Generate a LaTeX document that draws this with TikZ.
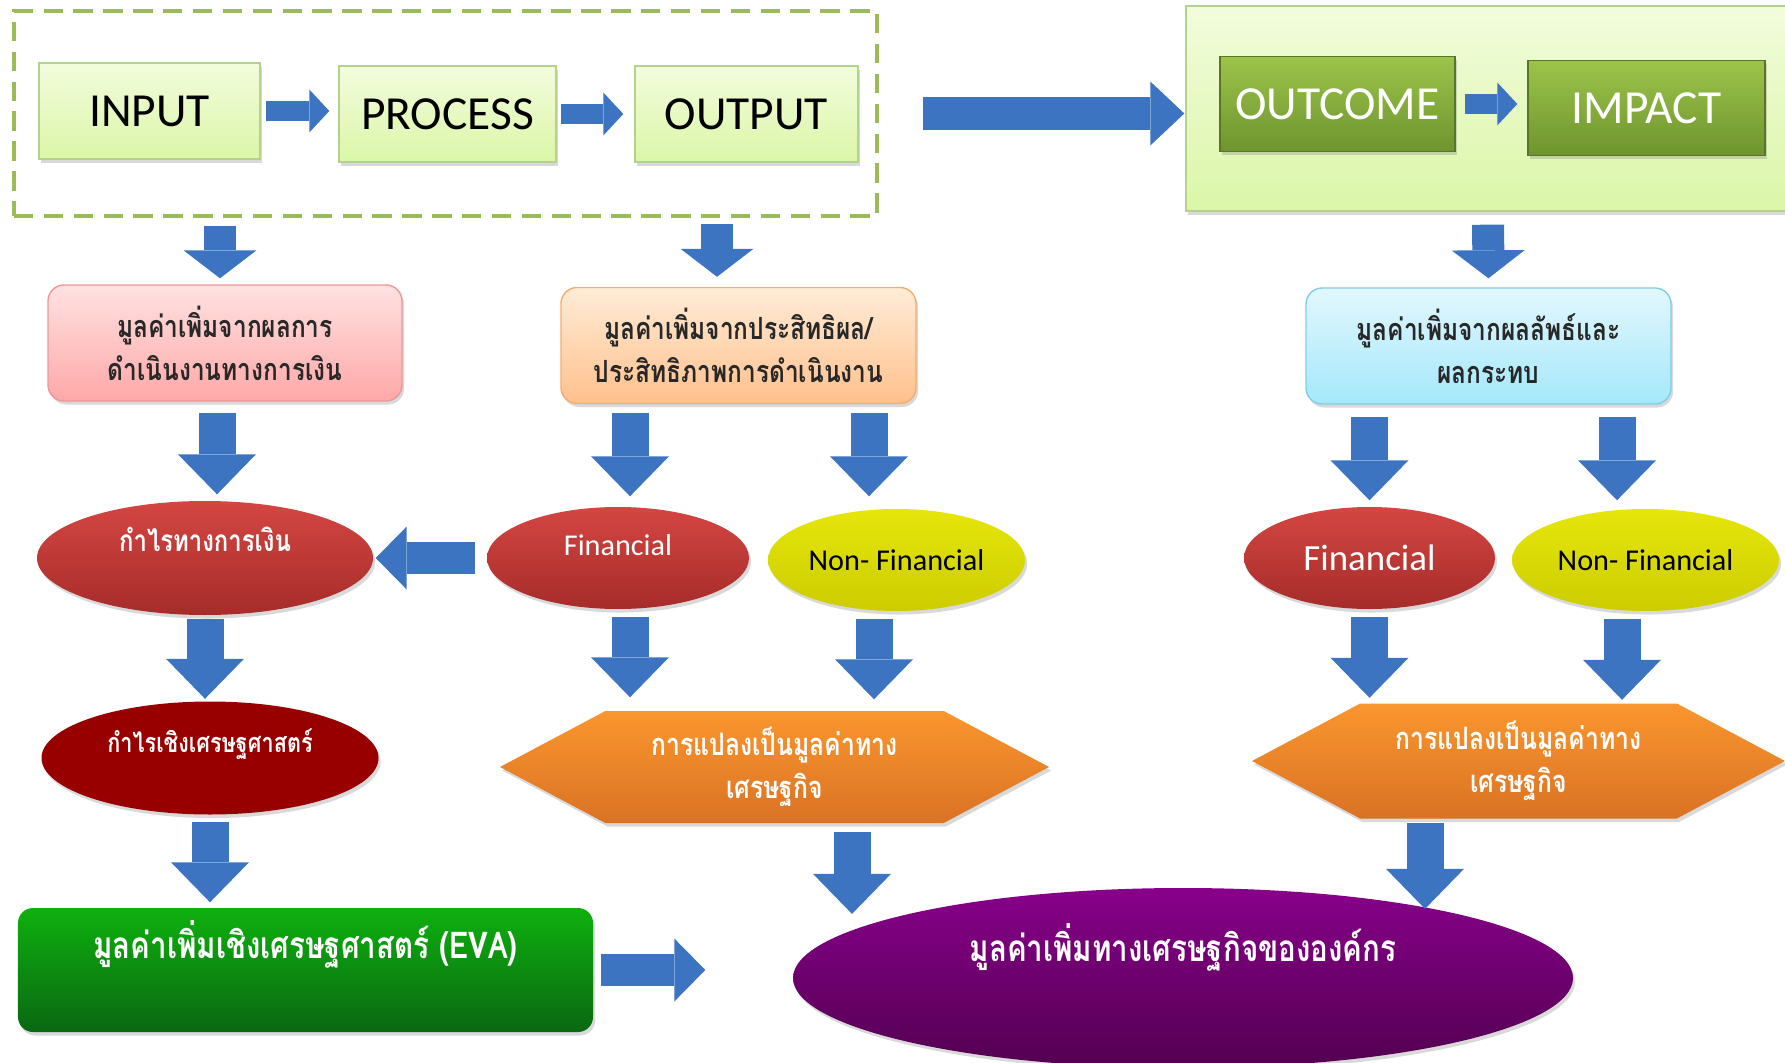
\documentclass[tikz,border=0pt]{standalone}
\usepackage{fontspec}
\setmainfont{Carlito}
\newfontfamily\thaifont[Script=Thai, FakeStretch=0.8]{Loma}
\usetikzlibrary{positioning, arrows.meta, shapes.geometric, shapes.symbols, shadows}

\definecolor{flowblue}{RGB}{60,116,194}
\definecolor{stagetop}{RGB}{242,252,220}
\definecolor{stagebot}{RGB}{219,246,168}
\definecolor{stageline}{RGB}{178,211,140}
\definecolor{framegreen}{RGB}{155,187,89}
\definecolor{deeptop}{RGB}{156,196,74}
\definecolor{deepbot}{RGB}{110,148,46}
\definecolor{pinktop}{RGB}{255,226,226}
\definecolor{pinkbot}{RGB}{255,168,168}
\definecolor{pinkline}{RGB}{236,152,152}
\definecolor{peachtop}{RGB}{255,236,216}
\definecolor{peachbot}{RGB}{255,192,140}
\definecolor{peachline}{RGB}{246,172,110}
\definecolor{skytop}{RGB}{226,247,253}
\definecolor{skybot}{RGB}{164,232,250}
\definecolor{skyline}{RGB}{128,206,232}
\definecolor{redtop}{RGB}{212,70,66}
\definecolor{redbot}{RGB}{166,44,42}
\definecolor{yeltop}{RGB}{230,230,12}
\definecolor{yelbot}{RGB}{204,204,0}
\definecolor{maroon}{RGB}{152,0,0}
\definecolor{hextop}{RGB}{250,150,46}
\definecolor{hexbot}{RGB}{218,114,36}
\definecolor{evatop}{RGB}{14,176,14}
\definecolor{evabot}{RGB}{10,104,18}
\definecolor{plumtop}{RGB}{136,0,138}
\definecolor{plumbot}{RGB}{82,0,80}
\definecolor{darktext}{RGB}{40,40,40}

\begin{document}
\begin{tikzpicture}[font=\fontsize{13.5}{16}\selectfont]

\tikzset{
  shade/.style={drop shadow={opacity=0.3, shadow xshift=0.6pt, shadow yshift=-1pt}},
  stage/.style={draw=stageline, top color=stagetop, bottom color=stagebot, minimum height=0.96cm, inner sep=0pt, shade},
  deep/.style={draw=deepbot!80!black, top color=deeptop, bottom color=deepbot, text=white, minimum height=0.95cm, inner sep=0pt, shade},
  valbox/.style={rounded corners=0.16cm, minimum height=1.16cm, align=center, text=darktext, inner sep=0pt, shade,
    font=\thaifont\bfseries\fontsize{8.7}{12.3}\selectfont},
  oval/.style={ellipse, inner sep=0pt, minimum height=1.02cm, shade, font=\fontsize{8.6}{11}\selectfont},
  thaioval/.style={ellipse, inner sep=0pt, shade, text=white, font=\thaifont\bfseries\fontsize{8.5}{12}\selectfont},
  hexa/.style={signal, signal to=west and east, signal pointer angle=56, inner sep=0pt, shade, text=white,
    top color=hextop, bottom color=hexbot, align=center, font=\thaifont\bfseries\fontsize{8.8}{12.3}\selectfont},
  hflow/.style={draw=flowblue, line width=0.2cm, -{Triangle[length=0.2cm, width=0.43cm, line width=0pt]}},
  bigflow/.style={draw=flowblue, line width=0.33cm, -{Triangle[length=0.34cm, width=0.64cm, line width=0pt]}},
  sideflow/.style={draw=flowblue, line width=0.32cm, -{Triangle[length=0.31cm, width=0.63cm, line width=0pt]}},
  thinflow/.style={draw=flowblue, line width=0.32cm, -{Triangle[length=0.28cm, width=0.73cm, line width=0pt]}},
  downflow/.style={draw=flowblue, line width=0.37cm, -{Triangle[length=0.40cm, width=0.78cm, line width=0pt]}},
}

\useasboundingbox (0,0) rectangle (17.85,-10.63);

% input - process - output chain
\node[stage, minimum width=2.21cm] (input) at (1.495,-1.11) {INPUT};
\node[stage, minimum width=2.17cm] (process) at (4.475,-1.14) {PROCESS};
\node[stage, minimum width=2.23cm] (output) at (7.465,-1.14) {OUTPUT};
\node[draw=framegreen, line width=1.1pt, dash pattern=on 5.5pt off 3pt, minimum width=8.63cm, minimum height=2.05cm] (chain) at (4.455,-1.135) {};

% outcome - impact
\node[draw=stageline, top color=stagetop, bottom color=stagebot, minimum width=6.04cm, minimum height=2.05cm, shade] (effect) at (14.88,-1.085) {};
\node[deep, minimum width=2.35cm] (outcome) at (13.375,-1.04) {OUTCOME};
\node[deep, minimum width=2.37cm] (impact) at (16.465,-1.08) {IMPACT};

% value added boxes
\node[valbox, draw=pinkline, top color=pinktop, bottom color=pinkbot, minimum width=3.54cm] (finbox) at (2.25,-3.43)
  {มูลค่าเพิ่มจากผลการ\\ดำเนินงานทางการเงิน};
\node[valbox, draw=peachline, top color=peachtop, bottom color=peachbot, minimum width=3.55cm] (effbox) at (7.385,-3.455)
  {มูลค่าเพิ่มจากประสิทธิผล/\\ประสิทธิภาพการดำเนินงาน};
\node[valbox, draw=skyline, top color=skytop, bottom color=skybot, minimum width=3.65cm] (resbox) at (14.885,-3.46)
  {มูลค่าเพิ่มจากผลลัพธ์และ\\ผลกระทบ};

% financial / non-financial
\node[thaioval, top color=redtop, bottom color=redbot, minimum width=3.36cm, minimum height=1.14cm,
  text height=0.25cm, text depth=0.375cm] (profit) at (2.05,-5.58) {กำไรทางการเงิน};
\node[oval, top color=redtop, bottom color=redbot, text=white, minimum width=2.62cm,
  text height=0.25cm, text depth=0.31cm] (fin1) at (6.18,-5.58) {Financial};
\node[oval, top color=yeltop, bottom color=yelbot, minimum width=2.57cm] (nonfin1) at (8.965,-5.60) {Non- Financial};
\node[oval, top color=redtop, bottom color=redbot, text=white, minimum width=2.51cm, font=\fontsize{10.5}{12}\selectfont] (fin2) at (13.695,-5.58) {Financial};
\node[oval, top color=yeltop, bottom color=yelbot, minimum width=2.67cm] (nonfin2) at (16.455,-5.60) {Non- Financial};

% conversion to economic value
\node[thaioval, fill=maroon, minimum width=3.37cm, minimum height=1.13cm, text height=0.25cm, text depth=0.37cm,
  font=\thaifont\bfseries\fontsize{7.7}{11}\selectfont] (econ) at (2.10,-7.58) {กำไรเชิงเศรษฐศาสตร์};
\node[hexa, minimum width=5.49cm, minimum height=1.12cm] (hex1) at (7.745,-7.67) {การแปลงเป็นมูลค่าทาง\\เศรษฐกิจ};
\node[hexa, minimum width=5.33cm, minimum height=1.15cm] (hex2) at (15.185,-7.61) {การแปลงเป็นมูลค่าทาง\\เศรษฐกิจ};

% final values
\node[rounded corners=0.15cm, top color=evatop, bottom color=evabot, text=white, minimum width=5.75cm, minimum height=1.24cm,
  inner sep=0pt, text height=0.35cm, text depth=0.59cm, shade, font=\thaifont\bfseries\fontsize{10.5}{14}\selectfont] (eva) at (3.055,-9.70)
  {มูลค่าเพิ่มเชิงเศรษฐศาสตร์ (EVA)};
\node[thaioval, top color=plumtop, bottom color=plumbot, minimum width=7.8cm, minimum height=1.8cm,
  text height=0.35cm, text depth=0.69cm, font=\thaifont\bfseries\fontsize{10.5}{14}\selectfont] (value) at (11.83,-9.78)
  {มูลค่าเพิ่มทางเศรษฐกิจขององค์กร};

% arrows, top row
\draw[hflow, shorten <=0.05cm, shorten >=0.09cm] (input.east) -- (input.east -| process.west);
\draw[hflow, shorten <=0.04cm, shorten >=0.11cm] (process.east) -- (process.east -| output.west);
\draw[bigflow, shorten <=0.44cm, shorten >=0.01cm] (chain.east) -- (chain.east -| effect.west);
\draw[hflow, shorten <=0.09cm, shorten >=0.1cm] (outcome.east) -- (outcome.east -| impact.west);

% arrows into the value boxes
\draw[thinflow, shorten <=0.08cm, shorten >=0.06cm] ([xshift=-0.05cm]finbox.north |- chain.south) -- ([xshift=-0.05cm]finbox.north);
\draw[thinflow, shorten <=0.06cm, shorten >=0.10cm] ([xshift=-0.215cm]effbox.north |- chain.south) -- ([xshift=-0.215cm]effbox.north);
\draw[thinflow, shorten <=0.13cm, shorten >=0.09cm] (effect.south) -- (resbox.north);

% arrows into the ovals
\draw[downflow, shorten <=0.11cm, shorten >=0.06cm] ([xshift=-0.08cm]finbox.south) -- ([xshift=-0.08cm]finbox.south |- profit.north);
\draw[downflow, shorten <=0.09cm, shorten >=0.10cm] ([xshift=0.12cm]fin1.north |- effbox.south) -- ([xshift=0.12cm]fin1.north);
\draw[downflow, shorten <=0.09cm, shorten >=0.12cm] ([xshift=-0.275cm]nonfin1.north |- effbox.south) -- ([xshift=-0.275cm]nonfin1.north);
\draw[downflow, shorten <=0.12cm, shorten >=0.06cm] (fin2.north |- resbox.south) -- (fin2.north);
\draw[downflow, shorten <=0.12cm, shorten >=0.08cm] ([xshift=-0.285cm]nonfin2.north |- resbox.south) -- ([xshift=-0.285cm]nonfin2.north);
\draw[sideflow, shorten <=0.11cm, shorten >=0.02cm] (fin1.west) -- (profit.east);

% arrows into the conversion step
\draw[downflow, shorten <=0.03cm, shorten >=0.02cm] (profit.south) -- (profit.south |- econ.north);
\draw[downflow, shorten <=0.07cm, shorten >=0.13cm] ([xshift=0.12cm]fin1.south) -- ([xshift=0.12cm]fin1.south |- hex1.north);
\draw[downflow, shorten <=0.07cm, shorten >=0.11cm] ([xshift=-0.225cm]nonfin1.south) -- ([xshift=-0.225cm]nonfin1.south |- hex1.north);
\draw[downflow, shorten <=0.07cm, shorten >=0.05cm] (fin2.south) -- (fin2.south |- hex2.north);
\draw[downflow, shorten <=0.07cm, shorten >=0.03cm] ([xshift=-0.235cm]nonfin2.south) -- ([xshift=-0.235cm]nonfin2.south |- hex2.north);

% arrows into the final values
\draw[downflow, shorten <=0.07cm, shorten >=0.05cm] (econ.south) -- (econ.south |- eva.north);
\draw[downflow, shorten <=0.08cm] ([xshift=0.775cm]hex1.south) -- ([xshift=0.775cm]hex1.south |- value.north west);
\draw[downflow, shorten <=0.04cm, shorten >=0.05cm] ([xshift=-0.935cm]hex2.south) -- ([xshift=-0.935cm]hex2.south |- value.north east);
\draw[sideflow, shorten <=0.07cm, shorten >=0.87cm] (eva.east) -- (eva.east -| value.west);

\end{tikzpicture}
\end{document}
